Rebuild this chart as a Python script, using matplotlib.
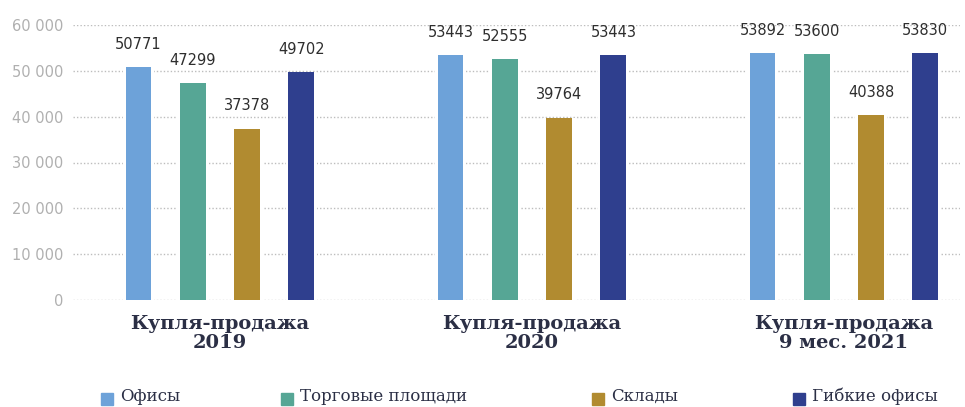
import numpy as np
import matplotlib.pyplot as plt
from matplotlib.patches import Rectangle

# Average price per category, three periods
groups = ["Купля-продажа\n2019", "Купля-продажа\n2020", "Купля-продажа\n9 мес. 2021"]
series_names = ["Офисы", "Торговые площади", "Склады", "Гибкие офисы"]
offices = [50771, 53443, 53892]
retail = [47299, 52555, 53600]
warehouses = [37378, 39764, 40388]
flex_offices = [49702, 53443, 53830]
yticks = [0, 10000, 20000, 30000, 40000, 50000, 60000]
ytick_labels = ["0", "10 000", "20 000", "30 000", "40 000", "50 000", "60 000"]

colors = ["#6da2d9", "#56a695", "#b18b30", "#2f3f8e"]
text_dark = "#2b2f45"

W, H = 965, 407
fig = plt.figure(figsize=(W / 100, H / 100), dpi=100)
ax = fig.add_axes([73 / W, 1 - 300 / H, (960 - 73) / W, (300 - 25) / H])

x = np.arange(len(groups))
step = 0.174
width = 0.083
all_series = [offices, retail, warehouses, flex_offices]

# dotted grid behind the bars
for t in yticks:
    ax.axhline(t, color="#bdbdbd", lw=1.0, ls=(0, (1, 1.5)), zorder=0)

for i, (vals, c) in enumerate(zip(all_series, colors)):
    pos = x + (i - 1.5) * step
    # white backing so the grid breaks around each bar
    ax.bar(pos, vals, width=width + 0.018, color="white", zorder=1)
    ax.bar(pos, vals, width=width, color=c, zorder=2)
    for px, v in zip(pos, vals):
        ax.annotate(str(v), (px, v), xytext=(0, 11), textcoords="offset points",
                    ha="center", va="bottom", fontsize=10.5, color="#2e2e2e",
                    family="DejaVu Sans", zorder=3)

ax.set_xlim(-0.471, 2.372)
ax.set_ylim(0, 60000)
ax.set_yticks(yticks)
ax.set_yticklabels(ytick_labels)
ax.tick_params(axis="y", length=0, pad=7, labelsize=10.5, labelcolor="#b0b0b0")
ax.set_xticks([])
for s in ax.spines.values():
    s.set_visible(False)

# group captions under the axis
for gx, g in zip(x, groups):
    ax.text(gx, -0.055, g, transform=ax.get_xaxis_transform(), ha="center", va="top",
            fontsize=14, fontweight="bold", family="DejaVu Serif", color=text_dark,
            linespacing=1.05)

# legend drawn by hand along the bottom edge
legend_x = [101, 281, 592, 793]
for lx, name, c in zip(legend_x, series_names, colors):
    fig.add_artist(Rectangle((lx / W, 2 / H), 12 / W, 12 / H, color=c,
                             transform=fig.transFigure))
    fig.text((lx + 19) / W, 6 / H, name, ha="left", va="baseline", fontsize=12,
             family="DejaVu Serif", color=text_dark)

fig.savefig("out.png", dpi=100)
